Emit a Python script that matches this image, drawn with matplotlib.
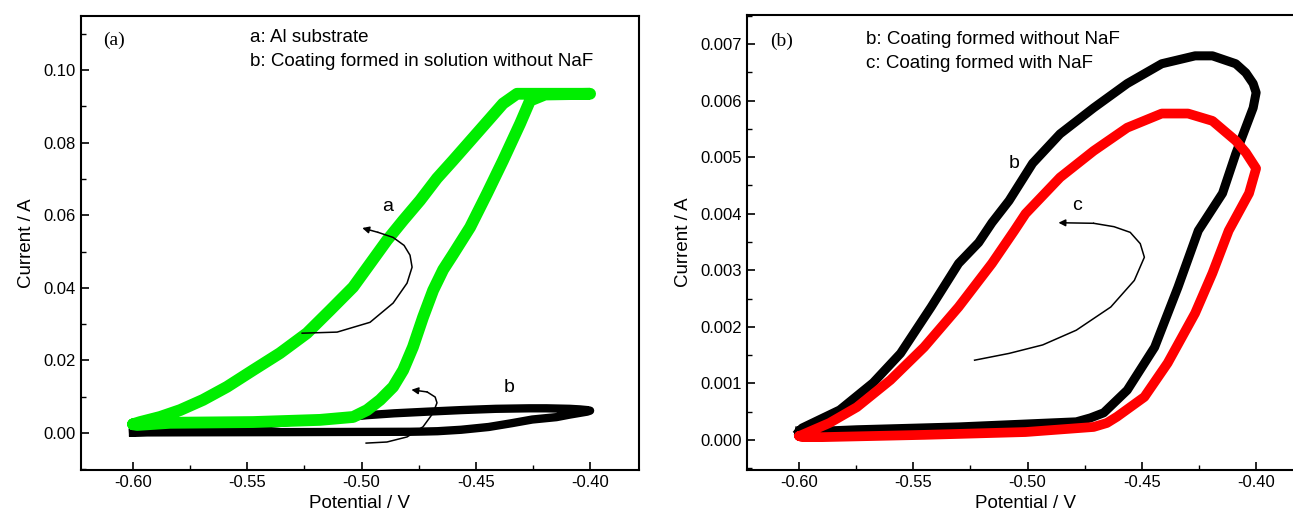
import matplotlib

matplotlib.use("Agg")
import matplotlib.pyplot as plt  # noqa: E402
from matplotlib.ticker import AutoMinorLocator, MultipleLocator  # noqa: E402

plt.rcParams["font.family"] = ["Liberation Sans", "DejaVu Sans"]

# --- curve a (Al substrate): forward scan then reverse scan ---
a_fwd_v = [-0.600, -0.5982, -0.5838, -0.5475, -0.5182, -0.5037, -0.4976, -0.4919,
           -0.4862, -0.4818, -0.4775, -0.4731, -0.4687, -0.4643, -0.4600, -0.4525,
           -0.4451, -0.4381, -0.4306, -0.4263, -0.4197, -0.400]
a_fwd_i = [0.0024, 0.0022, 0.0028, 0.0030, 0.0036, 0.0044, 0.0063, 0.0091,
           0.0127, 0.0173, 0.0237, 0.0319, 0.0393, 0.0450, 0.0492, 0.0567,
           0.0660, 0.0751, 0.0853, 0.0916, 0.0933, 0.0935]
a_rev_v = [-0.400, -0.4320, -0.4381, -0.4438, -0.4512, -0.4600, -0.4670, -0.4744,
           -0.4818, -0.4889, -0.4960, -0.5037, -0.5138, -0.5239, -0.5357,
           -0.5475, -0.5589, -0.5694, -0.5794, -0.5882, -0.5969, -0.600]
a_rev_i = [0.0935, 0.0935, 0.0908, 0.0867, 0.0814, 0.0751, 0.0702, 0.0641,
           0.0586, 0.0531, 0.0469, 0.0402, 0.0338, 0.0275, 0.0220,
           0.0173, 0.0127, 0.0091, 0.0063, 0.0044, 0.0030, 0.0024]

# --- curve b (coating without NaF) ---
b_fwd_v = [-0.600, -0.5987, -0.5747, -0.5302, -0.4787, -0.4725, -0.4667, -0.4564,
           -0.4444, -0.4342, -0.4253, -0.4147, -0.4089, -0.4013, -0.400]
b_fwd_i = [0.00015, 0.00014, 0.00018, 0.00023, 0.00032, 0.00039, 0.00048, 0.00088,
           0.00164, 0.0027, 0.0037, 0.00436, 0.00506, 0.00587, 0.00614]
b_rev_v = [-0.400, -0.4013, -0.4045, -0.4089, -0.4191, -0.4267, -0.4413, -0.4564,
           -0.4711, -0.4858, -0.4978, -0.5081, -0.5156, -0.5214, -0.5302, -0.5422,
           -0.5556, -0.5676, -0.5822, -0.5987, -0.600]
b_rev_i = [0.00614, 0.0063, 0.00649, 0.00665, 0.00679, 0.00679, 0.00665, 0.0063,
           0.00587, 0.00541, 0.00489, 0.00423, 0.00384, 0.00349, 0.00312, 0.00235,
           0.00153, 0.00101, 0.00053, 0.00021, 0.00015]

# --- curve c (coating with NaF) ---
c_fwd_v = [-0.600, -0.5987, -0.5898, -0.5453, -0.5009, -0.4711, -0.4653, -0.4609,
           -0.4489, -0.4387, -0.4267, -0.4191, -0.412, -0.4031, -0.400]
c_fwd_i = [0.00007, 0.00005, 0.00005, 0.00009, 0.00014, 0.00023, 0.00030, 0.00041,
           0.00076, 0.00136, 0.00224, 0.00295, 0.0037, 0.00436, 0.0048]
c_rev_v = [-0.400, -0.4045, -0.4089, -0.4191, -0.4298, -0.4413, -0.4564, -0.4711,
           -0.4858, -0.5009, -0.5058, -0.5156, -0.5302, -0.5453, -0.5600, -0.5747,
           -0.5867, -0.5987, -0.600]
c_rev_i = [0.0048, 0.00508, 0.00529, 0.00564, 0.00577, 0.00577, 0.00552, 0.00511,
           0.00464, 0.0040, 0.0037, 0.00312, 0.00235, 0.00164, 0.00106, 0.00058,
           0.0003, 0.00009, 0.00007]

# scan-direction arrows (hand-drawn in the original)
arr_a_v = [-0.5260, -0.5107, -0.4963, -0.4862, -0.4801, -0.4779, -0.4788, -0.4814,
           -0.4862, -0.4928]
arr_a_i = [0.0275, 0.0278, 0.0305, 0.0358, 0.0413, 0.0457, 0.0490, 0.0517,
           0.0539, 0.0553]
arr_a_tip = (-0.4997, 0.0565)
arr_b_v = [-0.4980, -0.4889, -0.4801, -0.4731, -0.4687, -0.4670, -0.4678, -0.4713]
arr_b_i = [-0.0028, -0.0025, -0.0011, 0.0017, 0.0055, 0.0083, 0.0099, 0.0113]
arr_b_tip = (-0.4782, 0.0119)
arr_c_v = [-0.5232, -0.5081, -0.4934, -0.4787, -0.4636, -0.4533, -0.4489, -0.4507,
           -0.4551, -0.4622, -0.4711]
arr_c_i = [0.00141, 0.00153, 0.00168, 0.00194, 0.00235, 0.00282, 0.00323, 0.00347,
           0.00367, 0.00377, 0.00383]
arr_c_tip = (-0.4865, 0.00384)

XLIM = (-0.6228, -0.3786)
GREEN = "#00ee00"
RED = "#ff0000"


def style_axis(ax, ylim, ymajor, yfmt):
    ax.set_xlim(*XLIM)
    ax.set_ylim(*ylim)
    ax.xaxis.set_major_locator(MultipleLocator(0.05))
    ax.yaxis.set_major_locator(MultipleLocator(ymajor))
    ax.xaxis.set_minor_locator(AutoMinorLocator(2))
    ax.yaxis.set_minor_locator(AutoMinorLocator(2))
    ax.xaxis.set_major_formatter(plt.FormatStrFormatter("%.2f"))
    ax.yaxis.set_major_formatter(plt.FormatStrFormatter(yfmt))
    ax.tick_params(which="major", direction="in", length=6, width=1.2, labelsize=12)
    ax.tick_params(which="minor", direction="in", length=3.5, width=1.0)
    for s in ax.spines.values():
        s.set_linewidth(1.5)
    ax.set_xlabel("Potential / V", fontsize=13.5, labelpad=4)
    ax.set_ylabel("Current / A", fontsize=13.5, labelpad=6)


def draw_arrow(ax, vs, cs, tip):
    ax.plot(vs, cs, color="black", lw=1.1, zorder=5, solid_joinstyle="round")
    ax.annotate("", xy=tip, xytext=(vs[-1], cs[-1]),
                arrowprops=dict(arrowstyle="-|>", color="black", lw=1.1,
                                mutation_scale=10, shrinkA=0, shrinkB=0), zorder=5)


fig = plt.figure(figsize=(12.93, 5.21), dpi=100)
ax1 = fig.add_axes([0.0626, 0.098, 0.4316, 0.871])
ax2 = fig.add_axes([0.5777, 0.098, 0.4316, 0.873])

# --- panel (a) ---
ax1.plot(b_fwd_v + b_rev_v, b_fwd_i + b_rev_i, color="black", lw=6,
         solid_joinstyle="round", zorder=2)
ax1.plot(a_fwd_v + a_rev_v, a_fwd_i + a_rev_i, color=GREEN, lw=8.5,
         solid_capstyle="round", solid_joinstyle="round", zorder=3)
draw_arrow(ax1, arr_a_v, arr_a_i, arr_a_tip)
draw_arrow(ax1, arr_b_v, arr_b_i, arr_b_tip)
ax1.text(-0.4885, 0.0625, "a", fontsize=14, ha="center", va="center")
ax1.text(-0.4355, 0.0125, "b", fontsize=14, ha="center", va="center")
ax1.text(0.039, 0.947, "(a)", transform=ax1.transAxes, fontsize=14,
         family=["Liberation Serif", "DejaVu Serif"], va="center")
ax1.text(0.303, 0.952, "a: Al substrate", transform=ax1.transAxes, fontsize=13.5,
         va="center")
ax1.text(0.303, 0.899, "b: Coating formed in solution without NaF",
         transform=ax1.transAxes, fontsize=13.5, va="center")
style_axis(ax1, (-0.0102, 0.1149), 0.02, "%.2f")

# --- panel (b) ---
ax2.plot(b_fwd_v + b_rev_v, b_fwd_i + b_rev_i, color="black", lw=6.5,
         solid_joinstyle="round", zorder=2)
ax2.plot(c_fwd_v + c_rev_v, c_fwd_i + c_rev_i, color=RED, lw=7,
         solid_capstyle="round", solid_joinstyle="round", zorder=3)
draw_arrow(ax2, arr_c_v, arr_c_i, arr_c_tip)
ax2.text(-0.5060, 0.00488, "b", fontsize=14, ha="center", va="center")
ax2.text(-0.4785, 0.00415, "c", fontsize=14, ha="center", va="center")
ax2.text(0.041, 0.943, "(b)", transform=ax2.transAxes, fontsize=14,
         family=["Liberation Serif", "DejaVu Serif"], va="center")
ax2.text(0.213, 0.946, "b: Coating formed without NaF", transform=ax2.transAxes,
         fontsize=13.5, va="center")
ax2.text(0.213, 0.893, "c: Coating formed with NaF", transform=ax2.transAxes,
         fontsize=13.5, va="center")
style_axis(ax2, (-0.00053, 0.00751), 0.001, "%.3f")

fig.savefig("out.png", dpi=100)
